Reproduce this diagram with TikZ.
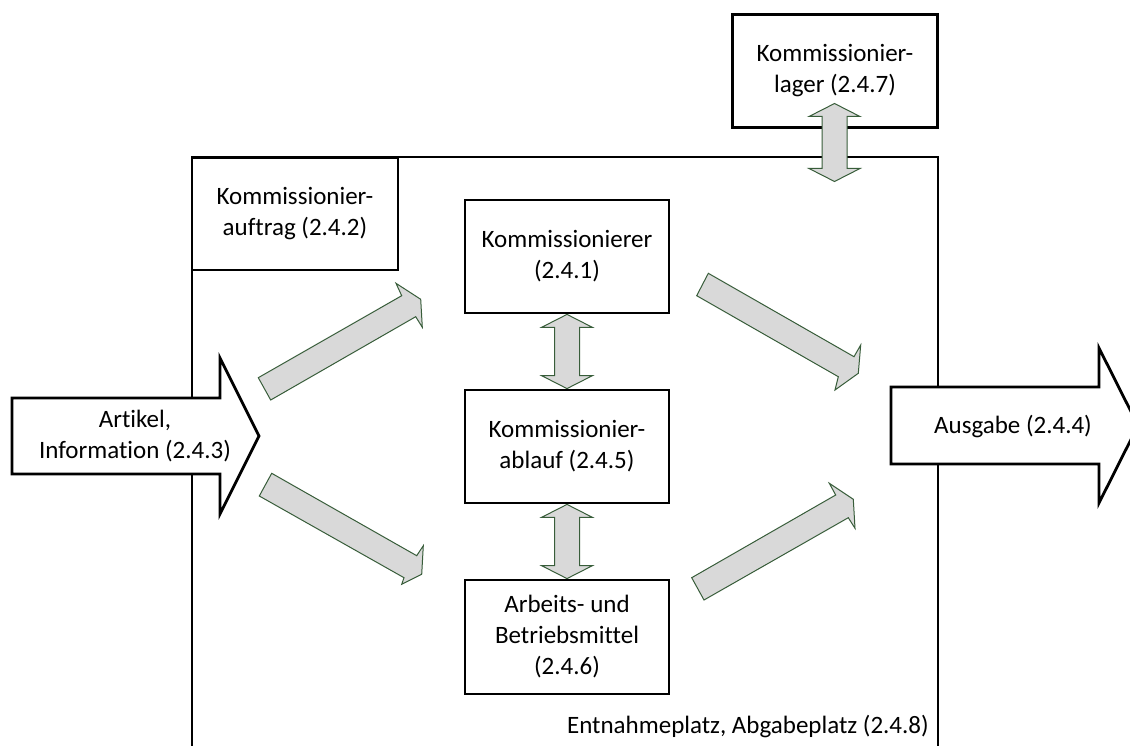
\documentclass[tikz,border=0pt]{standalone}
\usepackage{fontspec}
\setmainfont{Carlito}[Ligatures={NoCommon}]
\usetikzlibrary{calc}
\definecolor{arrowline}{HTML}{385D3A}
\definecolor{arrowfill}{HTML}{D9D9D9}
\tikzset{
  txt/.style={font=\fontsize{25}{31}\selectfont, align=center, inner sep=0pt},
  box/.style={txt, draw=black, line width=2.8pt, fill=white},
  blockarrow/.style={draw=arrowline, fill=arrowfill, line width=1pt, line join=miter},
  bigarrow/.style={draw=black, fill=white, line width=2.8pt, line join=miter},
  frameline/.style={draw=black, line width=2.8pt}
}
% vertical double block arrow between two points (top tip, bottom tip)
\newcommand{\vdbl}[2]{%
  \path[blockarrow] let \p1=(#1), \p2=(#2) in
    (\x1,\y1) -- (\x1+25.5pt,\y1-13pt) -- (\x1+12.5pt,\y1-13pt)
    -- (\x1+12.5pt,\y2+13pt) -- (\x1+25.5pt,\y2+13pt) -- (\x1,\y2)
    -- (\x1-25.5pt,\y2+13pt) -- (\x1-12.5pt,\y2+13pt)
    -- (\x1-12.5pt,\y1-13pt) -- (\x1-25.5pt,\y1-13pt) -- cycle;}
\begin{document}
\begin{tikzpicture}[x=1pt,y=-1pt]
\useasboundingbox[fill=white] (0,0) rectangle (1130,746);

% outer frame, open at the bottom
\coordinate (fbl) at (192,746);
\coordinate (ftl) at (192,157);
\coordinate (ftr) at (938,157);
\coordinate (fbr) at (938,746);
\draw[frameline] (fbl) -- (ftl) -- (ftr) -- (fbr);

% boxes
\node[box, minimum width=205pt, minimum height=113pt] (lager) at (835,71)
  {Kommissionier-\\lager (2.4.7)};
\node[box, minimum width=206pt, minimum height=112pt] (auftrag) at (295,214)
  {Kommissionier-\\auftrag (2.4.2)};
\node[box, minimum width=204pt, minimum height=113pt] (kr) at (567,256.5)
  {Kommissionierer\\(2.4.1)};
\node[box, minimum width=204pt, minimum height=113pt] (ka) at (567,446.5)
  {Kommissionier-\\ablauf (2.4.5)};
\node[box, minimum width=204pt, minimum height=114pt] (am) at (567,637)
  {Arbeits- und\\Betriebsmittel\\(2.4.6)};

\node[txt, anchor=base east] (platz) at (929,733)
  {Entnahmeplatz, Abgabeplatz (2.4.8)};

% input and output block arrows
\draw[bigarrow] (12,398) -- (220,398) -- (220,358) -- (259,436)
  -- (220,514) -- (220,474) -- (12,474) -- cycle;
\node[txt] (in) at (135,436) {Artikel,\\Information (2.4.3)};
\draw[bigarrow] (891,387) -- (1099,387) -- (1099,348) -- (1138,425.5)
  -- (1099,503) -- (1099,464) -- (891,464) -- cycle;
\node[txt] (out) at (1013,427) {Ausgabe (2.4.4)};

% vertical double arrows
\coordinate (lt) at (834.5,103.5);
\coordinate (lb) at (834.5,181.5);
\vdbl{lt}{lb}
\vdbl{kr.south}{ka.north}
\vdbl{ka.south}{am.north}

% diagonal flow arrows
\path[blockarrow] (258.3,377.7) -- (401.7,295.7) -- (396,283.3) -- (420.7,299.3)
  -- (422.3,327.3) -- (415.7,316.7) -- (270.7,400) -- cycle;
\path[blockarrow] (708.3,273.3) -- (854,356.7) -- (860.7,345) -- (858.3,373.3)
  -- (835,390) -- (838.3,376.7) -- (696.7,295.7) -- cycle;
\path[blockarrow] (271.7,473.3) -- (416.7,555.7) -- (423.3,545.7) -- (421.7,574.3)
  -- (401.7,584.3) -- (404,577.7) -- (259.3,496) -- cycle;
\path[blockarrow] (691.7,577.7) -- (835.7,495) -- (829.3,483.3) -- (853.3,499.3)
  -- (855,528.3) -- (848.3,517.7) -- (704,600) -- cycle;
\end{tikzpicture}
\end{document}
